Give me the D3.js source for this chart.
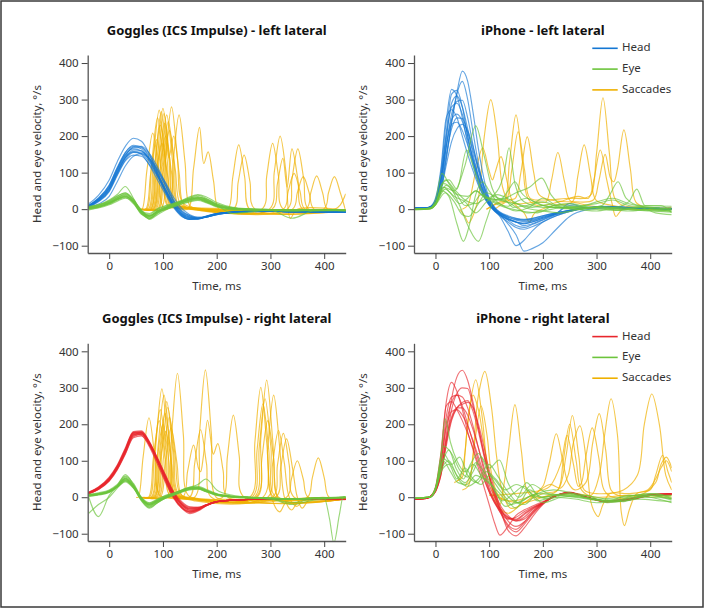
<!DOCTYPE html>
<html><head><meta charset="utf-8">
<script src="https://cdn.jsdelivr.net/npm/d3@7"></script>
<style>
body{margin:0;background:#fff;}
svg{display:block;}
text{font-family:"Noto Sans","Open Sans",sans-serif;}
</style>
</head><body>
<svg id="c" width="705" height="609"></svg>
<script>
// ---------- shared axes / labels ----------
const X_TICKS = [0, 100, 200, 300, 400];
const Y_TICKS = [-100, 0, 100, 200, 300, 400];
const X_DOMAIN = [-40, 440];
const Y_DOMAIN = [-120, 422];
const TITLES = ["Goggles (ICS Impulse) - left lateral", "iPhone - left lateral",
                "Goggles (ICS Impulse) - right lateral", "iPhone - right lateral"];
const LEGEND_LABELS = ["Head", "Eye", "Saccades"];
const X_LABEL = "Time, ms";
const Y_LABEL = "Head and eye velocity, °/s";

// sample times for the smooth head / eye traces
const TIME_GOGGLES = [-38,-20,0,15,30,45,60,75,90,105,120,135,150,165,180,200,230,260,300,340,380,440];
const TIME_IPHONE = [-38,-20,-10,0,10,20,30,40,50,60,70,80,90,100,110,120,135,150,165,180,200,225,250,280,320,360,400,440];

// ---------- Goggles - left lateral ----------
const gogglesLeftHead = [
 [10,28,62,110,155,175,170,140,98,55,12,-14,-25,-26,-20,-13,-8,-6,-6,-7,-7,-8],
 [6,22,50,95,135,155,152,128,92,52,14,-12,-22,-25,-20,-12,-8,-6,-6,-7,-7,-8],
 [15,38,80,130,172,194,186,150,100,48,8,-18,-28,-27,-21,-13,-9,-6,-6,-7,-8,-8],
 [8,24,55,102,142,162,160,135,96,54,16,-10,-22,-26,-22,-14,-8,-6,-6,-7,-7,-8],
 [4,14,35,75,118,145,152,138,108,72,32,2,-15,-22,-21,-14,-8,-6,-5,-6,-7,-7],
 [10,30,65,112,150,165,160,132,90,46,6,-18,-28,-27,-20,-12,-8,-6,-6,-7,-7,-8],
 [8,26,58,105,145,168,168,146,108,64,20,-8,-20,-25,-22,-15,-9,-6,-6,-7,-7,-8],
 [7,22,52,98,140,158,150,120,80,40,4,-20,-28,-26,-19,-12,-8,-6,-6,-7,-7,-8],
 [9,27,60,108,148,170,172,152,115,70,25,-4,-18,-24,-22,-15,-9,-7,-6,-7,-7,-8],
 [6,20,48,92,132,148,145,122,88,48,12,-14,-24,-26,-21,-13,-8,-6,-6,-7,-7,-8],
 [11,30,66,115,155,172,165,136,94,48,9,-16,-26,-27,-21,-13,-8,-6,-6,-7,-7,-8],
 [8,25,56,100,140,156,156,138,104,64,22,-6,-18,-24,-22,-15,-9,-7,-6,-7,-7,-8]
];
const gogglesLeftEye = [
 [3,8,18,30,38,20,-10,-20,-5,5,12,20,28,30,22,10,2,0,-2,-3,-2,-3],
 [5,10,22,35,45,28,-5,-18,-8,2,10,18,25,32,28,14,4,0,-1,-2,-1,-3],
 [0,5,15,25,32,15,-12,-25,-10,0,8,15,22,26,20,8,0,-2,-3,-4,-3,-4],
 [6,12,25,40,62,30,-8,-15,0,8,15,22,32,38,30,15,3,0,-1,-2,-2,-2],
 [2,6,16,28,35,22,-2,-28,-15,-2,8,18,26,28,20,8,0,-1,-3,-4,-3,-4],
 [8,12,20,32,40,25,-6,-12,2,10,16,24,34,40,34,18,5,1,-1,-2,-2,-3],
 [-2,3,12,22,30,18,-14,-22,-8,0,6,14,20,24,18,6,-2,-3,-4,-5,-4,-4],
 [4,9,19,31,42,26,-4,-18,-6,4,12,22,30,34,26,12,3,0,-2,-3,-2,-3],
 [3,7,17,28,36,20,-8,-24,-12,2,10,18,26,30,24,10,-12,-8,-3,-25,-5,-3],
 [1,6,14,26,34,20,-10,-18,-4,6,14,22,30,34,28,12,2,-1,-2,-3,-3,-3],
 [5,11,23,36,44,24,-8,-20,-6,4,12,20,28,32,24,10,1,-1,-2,-3,-2,-3],
 [2,7,16,27,34,18,-12,-26,-10,2,10,18,24,28,22,8,1,-2,-3,-4,-3,-4]
];
const gogglesLeftSaccades = [
 [[55,0],[61,0],[70,104],[81,208],[92,104],[101,5],[120,5],[146,0],[157,112],[168,224],[176,125],[184,157],[194,78],[204,0],[230,-2],[300,-3],[440,-4]],
 [[60,0],[73,0],[82,135],[93,271],[104,135],[113,10],[130,5],[200,2],[221,0],[230,88],[241,176],[252,88],[261,0],[300,-2],[440,-4]],
 [[62,0],[77,0],[86,133],[97,267],[108,133],[117,15],[140,5],[231,0],[240,74],[251,148],[262,74],[271,0],[440,-4]],
 [[64,0],[80,0],[89,138],[100,276],[111,138],[120,20],[140,5],[284,0],[293,90],[304,180],[315,90],[324,0],[440,-3]],
 [[66,0],[82,0],[91,131],[102,262],[113,131],[122,15],[150,3],[298,0],[307,100],[318,200],[329,100],[337,-25],[350,0],[440,-3]],
 [[68,0],[87,0],[96,129],[107,258],[118,129],[127,15],[150,3],[303,0],[313,70],[323,139],[331,60],[340,165],[351,82],[360,0],[440,-3]],
 [[72,0],[96,0],[105,140],[116,280],[127,140],[136,20],[160,3],[331,0],[340,82],[351,165],[362,82],[371,0],[440,-3]],
 [[78,0],[110,2],[119,129],[130,258],[141,129],[150,10],[170,0],[324,0],[333,49],[344,98],[355,49],[364,0],[440,-3]],
 [[58,0],[68,0],[77,95],[88,190],[99,95],[108,10],[130,3],[341,0],[350,45],[361,89],[372,45],[381,0],[440,-3]],
 [[60,0],[75,0],[84,115],[95,230],[106,115],[115,10],[140,3],[366,0],[375,45],[386,91],[397,45],[406,0],[440,-3]],
 [[66,0],[85,0],[94,100],[105,200],[116,100],[125,10],[150,3],[399,0],[408,45],[419,89],[430,45],[439,0]],
 [[68,0],[90,0],[99,120],[110,240],[121,120],[130,10],[160,3],[420,0],[430,12],[440,42]],
 [[62,0],[78,0],[87,90],[98,180],[109,90],[118,15],[140,3],[440,-3]],
 [[70,0],[92,0],[101,108],[112,215],[123,108],[132,15],[150,3],[440,-3]],
 [[58,0],[70,0],[79,125],[90,250],[101,125],[110,10],[130,3],[440,-3]],
 [[66,0],[83,0],[92,118],[103,235],[111,140],[120,200],[130,100],[139,10],[160,3],[440,-3]]
];

// ---------- iPhone - left lateral ----------
const iphoneLeftHead = [
 [3,3,5,18,55,140,240,320,378,350,265,165,85,30,5,-8,-18,-25,-28,-25,-18,-10,-3,5,8,5,3,2],
 [2,2,4,16,50,135,235,315,350,300,210,125,60,20,0,-12,-25,-35,-40,-35,-25,-12,10,4,6,4,2,1],
 [3,3,6,25,100,240,328,310,250,180,120,70,35,10,-5,-18,-35,-50,-55,-48,-35,-18,-6,3,6,4,2,2],
 [2,3,5,22,85,210,315,325,280,200,130,75,40,15,-2,-15,-30,-45,-50,-42,-30,-15,-5,3,5,3,2,1],
 [3,3,5,20,75,190,290,310,280,220,150,90,45,15,-3,-20,-60,-100,-85,-60,-35,-18,-6,2,5,4,2,1],
 [2,2,4,18,65,170,260,295,298,250,175,105,55,20,0,-15,-40,-70,-115,-108,-92,-55,-20,-2,4,3,2,1],
 [3,3,6,24,90,200,280,290,260,200,135,80,40,12,-4,-15,-28,-35,-38,-32,-22,-12,15,4,6,4,2,1],
 [2,3,7,30,110,250,272,250,200,150,105,65,35,12,-5,-16,-28,-36,-40,-35,-25,-13,-5,3,5,3,2,1],
 [3,3,5,18,60,150,220,250,248,210,160,110,65,28,5,-10,-22,-30,-34,-30,-22,-12,-4,4,6,4,2,1],
 [2,2,5,22,80,170,232,238,215,175,130,85,45,15,-2,-12,-22,-28,-30,-26,-18,-10,-3,4,5,3,2,1],
 [3,3,5,15,50,120,185,220,232,215,170,115,65,25,3,-10,-20,-26,-30,-28,-20,-10,-3,4,6,4,2,1],
 [2,3,6,22,75,175,245,260,240,190,140,90,50,18,0,-14,-26,-35,-45,-40,-28,-14,-5,3,5,3,2,1]
];
const iphoneLeftEye = [
 [[-38,0],[-10,0],[0,12],[12,50],[25,35],[40,-40],[52,-88],[62,-50],[75,40],[88,75],[100,50],[115,20],[135,8],[150,20],[170,30],[190,15],[220,5],[260,0],[300,5],[340,-3],[380,5],[420,-2],[440,-5]],
 [[-38,-2],[-10,1],[0,15],[15,70],[30,55],[45,10],[62,-50],[80,-88],[95,-30],[110,25],[125,30],[145,5],[170,10],[200,20],[230,5],[270,0],[310,8],[350,0],[400,-5],[440,-8]],
 [[-38,0],[-10,2],[0,15],[15,60],[35,50],[55,120],[75,228],[90,150],[105,60],[120,25],[150,15],[180,5],[210,12],[250,8],[300,15],[330,25],[360,10],[400,5],[440,0]],
 [[-38,-1],[-10,1],[0,14],[12,70],[25,80],[40,55],[58,162],[72,110],[88,45],[105,25],[125,10],[150,-5],[175,5],[200,30],[225,10],[260,0],[300,-5],[340,5],[380,0],[440,-5]],
 [[-38,0],[-10,3],[0,25],[12,98],[25,70],[40,40],[55,10],[70,15],[85,40],[100,30],[120,25],[135,50],[148,75],[160,45],[185,20],[220,5],[260,5],[300,20],[330,30],[360,15],[400,5],[440,2]],
 [[-38,-1],[-10,2],[0,12],[15,60],[30,40],[45,15],[60,30],[75,50],[95,30],[115,50],[128,100],[137,168],[148,70],[165,20],[200,5],[250,5],[300,5],[350,0],[440,-5]],
 [[-38,0],[-10,2],[0,14],[18,80],[35,55],[55,25],[75,15],[95,30],[120,25],[150,45],[175,60],[198,85],[215,40],[240,10],[280,5],[320,0],[360,-5],[400,0],[440,0]],
 [[-38,0],[-10,2],[0,13],[18,55],[35,35],[55,20],[75,-10],[95,20],[115,40],[140,25],[165,5],[200,-5],[230,-10],[270,0],[310,10],[325,40],[340,75],[355,30],[380,10],[440,8]],
 [[-38,-1],[-10,3],[0,16],[20,65],[40,40],[60,35],[75,50],[95,30],[120,10],[160,-5],[190,-10],[220,10],[250,15],[290,5],[330,5],[360,20],[375,55],[390,10],[420,10],[440,-10]],
 [[-38,0],[-10,2],[0,12],[18,45],[35,20],[50,-15],[62,-20],[80,15],[95,45],[110,35],[140,15],[170,-10],[200,-5],[240,5],[290,0],[330,-3],[380,5],[410,-10],[440,-15]]
];
const iphoneLeftSaccades = [
 [[45,0],[55,-20],[62,-38],[72,-10],[81,40],[91,200],[103,300],[115,200],[125,60],[135,25],[150,15],[190,20],[206,20],[216,78],[228,155],[240,78],[250,25],[270,15],[310,5],[360,0],[440,0]],
 [[50,0],[60,10],[66,40],[76,110],[88,168],[99,110],[106,80],[111,100],[122,144],[134,72],[144,20],[165,-10],[175,-35],[185,-10],[220,10],[255,20],[265,90],[277,176],[289,90],[299,25],[330,10],[380,0],[440,5]],
 [[95,0],[115,15],[128,20],[138,130],[150,258],[162,130],[172,30],[190,10],[230,20],[265,35],[285,30],[295,80],[307,162],[319,80],[329,15],[336,-20],[349,0],[440,0]],
 [[95,0],[120,20],[132,25],[142,106],[154,212],[166,106],[176,30],[200,25],[250,30],[278,30],[290,40],[300,152],[312,305],[324,152],[334,30],[349,10],[380,5],[440,0]],
 [[110,0],[138,25],[149,30],[159,100],[171,198],[183,100],[193,40],[215,25],[260,20],[294,25],[304,75],[316,150],[326,85],[332,75],[339,110],[351,217],[363,110],[373,20],[390,5],[440,0]]
];

// ---------- Goggles - right lateral ----------
const gogglesRightHead = [
 [12,25,50,82,128,175,178,148,100,48,3,-26,-38,-33,-22,-12,-8,-6,-5,-5,-5,-6],
 [10,22,46,78,122,168,172,145,100,52,8,-20,-32,-30,-21,-12,-8,-6,-5,-5,-5,-6],
 [14,28,55,88,135,180,182,150,102,50,2,-28,-42,-36,-24,-13,-8,-6,-5,-5,-6,-6],
 [11,24,48,80,125,170,174,146,102,55,10,-18,-30,-30,-22,-13,-8,-6,-5,-5,-5,-6],
 [13,27,52,85,130,176,176,142,95,44,0,-30,-45,-38,-24,-13,-8,-6,-5,-5,-6,-7],
 [9,21,44,75,118,163,168,142,100,55,12,-15,-28,-28,-21,-12,-8,-6,-5,-5,-5,-6],
 [12,26,51,84,130,177,180,152,106,56,8,-22,-36,-34,-23,-13,-8,-6,-5,-5,-5,-6],
 [10,23,47,79,124,171,176,150,105,58,12,-18,-32,-32,-22,-12,-8,-6,-5,-5,-5,-6],
 [13,27,53,86,132,178,178,146,98,46,0,-28,-40,-35,-23,-12,-8,-6,-5,-5,-6,-6],
 [11,24,49,81,126,172,175,147,101,51,6,-22,-35,-32,-22,-12,-8,-6,-5,-5,-5,-6],
 [12,25,50,83,128,174,170,138,90,40,-3,-30,-40,-34,-22,-12,-8,-6,-5,-5,-5,-6],
 [10,22,45,77,120,166,172,148,106,60,15,-12,-26,-28,-21,-12,-8,-6,-5,-5,-5,-6]
];
const gogglesRightEye = [
 [5,8,15,30,50,30,-5,-20,-10,0,8,18,25,25,18,8,2,0,-3,-5,-3,0],
 [8,12,20,35,58,38,0,-15,-5,5,12,20,28,30,22,10,3,0,-2,-4,-2,1],
 [-44,-20,0,25,45,28,-8,-28,-15,-2,6,15,22,24,16,6,0,-2,-4,-6,-4,-1],
 [0,-53,5,30,52,32,-3,-18,-8,2,10,20,27,35,50,20,5,0,-3,-5,-3,0],
 [6,10,18,32,62,35,-2,-22,-12,0,8,16,24,26,18,8,1,-1,-4,-15,-4,0],
 [3,7,14,28,45,26,-10,-30,-15,-3,5,14,20,22,15,5,0,-2,-5,-20,-8,-2],
 [7,10,17,32,55,34,-4,-16,-6,4,10,18,26,28,20,8,2,0,-2,-4,-2,0],
 [4,8,15,29,48,28,-6,-24,-12,0,8,17,24,25,17,7,1,-1,-3,-5,-3,0],
 [5,9,16,30,52,32,-2,-20,-8,2,10,19,26,27,19,8,2,0,-3,-5,-3,0],
 [2,6,13,27,42,25,-8,-26,-14,-2,6,15,22,23,16,6,0,-2,-4,-6,-4,-1],
 [6,9,17,31,50,30,-4,-19,-9,1,9,18,25,26,19,8,2,0,-3,-4,-3,0],
 [[-38,4],[-20,8],[0,15],[15,29],[30,47],[45,28],[60,-5],[75,-22],[90,-10],[105,0],[120,8],[135,17],[150,23],[165,24],[180,17],[200,7],[230,1],[260,0],[300,-3],[340,-5],[380,-3],[400,-2],[410,-60],[418,-125],[428,-50],[435,0],[440,2]]
];
const gogglesRightSaccades = [
 [[50,0],[54,0],[63,109],[74,218],[85,109],[94,5],[120,0],[159,0],[168,175],[179,349],[190,175],[199,0],[230,-5],[300,-5],[440,-5]],
 [[60,0],[78,0],[87,148],[98,297],[109,148],[118,10],[150,0],[262,0],[271,150],[282,301],[293,150],[302,0],[317,-40],[332,-10],[440,-5]],
 [[62,0],[82,0],[91,140],[102,280],[113,140],[122,10],[150,-5],[273,0],[282,160],[293,321],[304,160],[313,0],[324,-15],[440,-5]],
 [[64,0],[87,0],[96,131],[107,262],[118,131],[127,10],[160,-10],[286,0],[295,140],[306,280],[317,140],[326,0],[339,-35],[354,-10],[440,-5]],
 [[66,0],[89,0],[98,123],[109,246],[120,123],[129,10],[160,-5],[266,0],[275,128],[286,256],[297,128],[306,0],[440,-5]],
 [[58,0],[75,0],[84,120],[95,240],[106,120],[115,10],[150,-5],[295,0],[304,92],[315,183],[326,92],[335,0],[349,-25],[364,-5],[440,-5]],
 [[60,0],[80,0],[89,100],[100,200],[111,100],[120,10],[160,-5],[304,0],[313,88],[324,175],[335,88],[344,0],[440,-5]],
 [[64,0],[85,0],[94,90],[105,180],[116,90],[125,10],[160,-5],[310,0],[319,80],[330,160],[341,80],[350,0],[359,-30],[374,-5],[440,-5]],
 [[68,0],[92,0],[101,110],[112,220],[123,110],[132,10],[160,-5],[330,0],[339,50],[350,100],[361,50],[370,0],[440,-5]],
 [[78,0],[107,0],[116,170],[127,340],[138,170],[147,5],[180,-5],[211,0],[220,112],[231,225],[242,112],[251,0],[440,-5]],
 [[100,0],[137,0],[146,72],[157,143],[166,80],[170,70],[175,110],[183,211],[192,125],[194,118],[202,147],[212,73],[221,0],[440,-5]],
 [[110,0],[150,0],[159,92],[170,185],[181,92],[190,0],[275,0],[284,105],[295,210],[306,105],[315,0],[369,0],[378,54],[389,108],[400,54],[409,0],[440,-5]],
 [[70,0],[95,0],[104,95],[115,190],[126,95],[135,5],[160,-5],[440,-5]],
 [[58,0],[73,0],[82,105],[93,210],[104,105],[113,5],[150,-5],[440,-5]],
 [[64,0],[84,0],[93,115],[104,230],[115,115],[124,5],[160,-5],[270,0],[279,135],[290,270],[301,135],[310,0],[440,-5]]
];

// ---------- iPhone - right lateral ----------
const iphoneRightHead = [
 [-5,-4,0,18,70,170,270,330,348,320,260,190,120,60,15,-20,-50,-65,-60,-40,-15,5,12,0,-12,-5,8,10],
 [-4,-3,2,25,110,260,315,290,240,180,130,80,30,-20,-70,-104,-80,-50,-35,-25,-12,5,14,2,-10,-5,5,8],
 [-5,-4,0,15,60,150,240,285,300,298,250,190,125,60,10,-30,-90,-106,-85,-55,-20,5,12,0,-12,-8,5,10],
 [-4,-3,1,22,95,220,275,280,250,200,150,100,55,15,-15,-40,-60,-55,-40,-28,-15,5,12,0,-10,-5,6,8],
 [-5,-3,2,28,120,250,262,240,210,175,135,90,50,15,-15,-35,-55,-60,-45,-30,-15,5,13,0,-10,-6,5,8],
 [-4,-3,1,18,70,160,220,245,245,225,185,135,85,35,0,-30,-55,-65,-55,-35,-15,4,12,0,-12,-6,6,10],
 [-5,-4,0,16,60,140,210,245,260,265,235,180,115,55,5,-35,-75,-88,-70,-45,-18,5,13,0,-13,-8,5,10],
 [-4,-3,2,22,90,190,235,240,225,195,155,110,65,20,-10,-35,-58,-62,-48,-32,-16,5,12,0,-10,-5,6,8],
 [-5,-4,0,20,85,200,260,280,275,245,195,135,75,25,-10,-40,-80,-95,-75,-48,-18,5,13,0,-12,-6,5,10],
 [-4,-3,1,16,65,150,215,245,255,260,245,200,140,75,20,-25,-65,-80,-68,-42,-16,4,12,0,-12,-7,6,9]
];
const iphoneRightEye = [
 [[-38,-3],[-10,0],[0,25],[10,110],[18,215],[28,150],[40,100],[55,70],[70,90],[85,60],[100,40],[120,10],[140,-20],[160,-10],[190,10],[230,5],[270,-2],[310,-10],[350,-5],[400,5],[440,-5]],
 [[-38,-2],[-10,1],[0,22],[12,90],[25,130],[38,80],[52,50],[65,90],[80,120],[95,80],[110,40],[130,0],[150,-30],[175,20],[200,0],[240,10],[280,0],[320,-10],[360,5],[400,0],[440,-15]],
 [[-38,-3],[-10,0],[0,20],[12,80],[25,100],[40,60],[55,40],[70,70],[85,110],[100,80],[119,102],[135,40],[155,0],[180,35],[210,10],[250,5],[300,-5],[350,0],[400,10],[440,0]],
 [[-38,-2],[-10,1],[0,24],[14,100],[28,70],[42,40],[58,35],[75,60],[90,50],[105,30],[125,-10],[145,10],[165,30],[190,-10],[220,0],[260,-5],[300,-15],[340,-10],[380,0],[440,-3]],
 [[-38,-3],[-10,0],[0,22],[15,120],[30,90],[45,110],[60,60],[78,40],[95,70],[112,50],[130,20],[150,35],[175,15],[200,-15],[235,0],[280,5],[320,-15],[360,-8],[400,5],[440,-8]],
 [[-38,-2],[-10,1],[0,26],[15,140],[30,120],[45,75],[60,55],[75,95],[90,70],[110,20],[130,-25],[150,-10],[170,40],[195,0],[230,5],[270,0],[310,-8],[350,-12],[390,5],[440,5]],
 [[-38,-3],[-10,0],[0,20],[12,75],[25,90],[40,50],[55,80],[70,50],[85,35],[100,60],[120,30],[140,-5],[165,-20],[190,10],[220,20],[260,10],[300,0],[340,-10],[380,-5],[420,-10],[440,-12]],
 [[-38,-2],[-10,1],[0,24],[15,105],[30,85],[45,45],[60,30],[80,50],[100,90],[115,60],[135,15],[155,-15],[180,5],[210,-5],[250,10],[290,-5],[330,-12],[370,5],[410,10],[440,-5]]
];
const iphoneRightSaccades = [
 [[40,45],[50,55],[55,120],[63,240],[75,322],[87,220],[97,80],[109,10],[120,-20],[126,20],[136,127],[148,254],[160,127],[170,20],[182,0],[220,5],[260,10],[300,0],[360,5],[440,5]],
 [[50,20],[61,30],[70,120],[80,280],[92,345],[104,250],[114,110],[124,20],[140,-30],[170,-10],[200,30],[203,40],[213,100],[225,174],[237,100],[247,40],[260,20],[280,40],[293,150],[305,229],[317,130],[327,20],[340,5],[380,5],[440,0]],
 [[35,40],[45,50],[53,100],[60,200],[70,280],[80,240],[88,170],[100,60],[115,-20],[135,-44],[160,-20],[200,10],[228,20],[243,112],[255,224],[267,112],[277,20],[300,10],[350,20],[376,60],[389,200],[403,283],[417,200],[429,60],[440,20]],
 [[55,30],[65,60],[74,160],[85,250],[96,170],[105,60],[120,0],[160,-15],[200,0],[228,20],[238,100],[250,200],[262,100],[272,20],[290,5],[305,60],[315,170],[327,270],[339,170],[346,-40],[352,-78],[362,-30],[375,10],[400,20],[410,60],[423,115],[433,70],[440,40]],
 [[100,10],[140,-10],[180,5],[213,35],[233,25],[247,60],[257,150],[269,196],[281,100],[289,-10],[296,-40],[303,-53],[312,-20],[325,10],[360,10],[395,20],[410,50],[420,80],[430,100],[440,70]],
 [[100,5],[150,10],[200,20],[213,30],[233,90],[245,170],[257,90],[266,30],[272,40],[280,110],[292,190],[304,110],[314,20],[330,0],[380,5],[410,40],[420,90],[430,110],[440,80]]
];

// ---------- colours ----------
const BLUE = "#1477d3", RED = "#e8262c", GREEN = "#6cc43c", ORANGE = "#efb000";

const panels = [
  {title: TITLES[0], head: gogglesLeftHead, eye: gogglesLeftEye, sac: gogglesLeftSaccades, grid: TIME_GOGGLES, hc: BLUE, legend: false, x: [87.7, 345.7], y: [253, 55]},
  {title: TITLES[1], head: iphoneLeftHead, eye: iphoneLeftEye, sac: iphoneLeftSaccades, grid: TIME_IPHONE, hc: BLUE, legend: true, x: [414, 671.7], y: [253, 55]},
  {title: TITLES[2], head: gogglesRightHead, eye: gogglesRightEye, sac: gogglesRightSaccades, grid: TIME_GOGGLES, hc: RED, legend: false, x: [87.7, 345.7], y: [541, 343.3]},
  {title: TITLES[3], head: iphoneRightHead, eye: iphoneRightEye, sac: iphoneRightSaccades, grid: TIME_IPHONE, hc: RED, legend: true, x: [414, 671.7], y: [541, 343.3]}
];

const svg = d3.select("#c");
svg.append("rect").attr("x", 1).attr("y", 1).attr("width", 702).attr("height", 606)
  .attr("fill", "#fff").attr("stroke", "#3a3a3a").attr("stroke-width", 1.5);

function toPairs(tr, grid) {
  return Array.isArray(tr[0]) ? tr : tr.map((v, i) => [grid[i], v]);
}

panels.forEach((p, pi) => {
  const x = d3.scaleLinear().domain(X_DOMAIN).range(p.x);
  const y = d3.scaleLinear().domain(Y_DOMAIN).range(p.y);
  const g = svg.append("g");
  const clipId = "clip" + pi;
  svg.append("clipPath").attr("id", clipId).append("rect")
    .attr("x", p.x[0]).attr("y", p.y[1]).attr("width", p.x[1] - p.x[0]).attr("height", p.y[0] - p.y[1]);

  const line = d3.line().x(d => x(d[0])).y(d => y(d[1])).curve(d3.curveMonotoneX);
  const sacLine = d3.line().x(d => x(d[0])).y(d => y(d[1])).curve(d3.curveCatmullRom.alpha(0.5));
  const plot = g.append("g").attr("clip-path", `url(#${clipId})`)
    .attr("fill", "none").attr("stroke-width", 1.15).attr("stroke-linejoin", "round");

  plot.selectAll("path.sac").data(p.sac).join("path").attr("class", "sac")
    .attr("d", d => sacLine(d)).attr("stroke", ORANGE).attr("stroke-opacity", 0.7);
  plot.selectAll("path.head").data(p.head).join("path").attr("class", "head")
    .attr("d", d => line(toPairs(d, p.grid))).attr("stroke", p.hc).attr("stroke-opacity", 0.65);
  plot.selectAll("path.eye").data(p.eye).join("path").attr("class", "eye")
    .attr("d", d => line(toPairs(d, p.grid))).attr("stroke", GREEN).attr("stroke-opacity", 0.68);

  // axes
  const ax = g.append("g").attr("transform", `translate(0,${p.y[0]})`)
    .call(d3.axisBottom(x).tickValues(X_TICKS).tickSize(6).tickSizeOuter(0).tickPadding(3));
  const ay = g.append("g").attr("transform", `translate(${p.x[0]},0)`)
    .call(d3.axisLeft(y).tickValues(Y_TICKS).tickSize(6).tickSizeOuter(0).tickPadding(3));
  [ax, ay].forEach(a => {
    a.select(".domain").attr("stroke", "#555").attr("stroke-width", 1.3);
    a.selectAll(".tick line").attr("stroke", "#444");
    a.selectAll(".tick text").attr("fill", "#333").style("font-size", "11.5px")
      .style("font-family", '"Noto Sans","Open Sans",sans-serif');
  });

  // titles & labels
  const cx = (p.x[0] + p.x[1]) / 2;
  g.append("text").attr("x", cx).attr("y", p.y[1] - 24).attr("text-anchor", "middle")
    .attr("dominant-baseline", "middle").style("font-weight", "bold").style("font-size", "13px")
    .attr("fill", "#111").text(p.title);
  g.append("text").attr("x", cx).attr("y", p.y[0] + 34).attr("text-anchor", "middle")
    .attr("dominant-baseline", "middle").style("font-size", "11.5px").attr("fill", "#333").text(X_LABEL);
  const cy = (p.y[0] + p.y[1]) / 2;
  g.append("text").attr("transform", `translate(${p.x[0] - 50},${cy}) rotate(-90)`)
    .attr("text-anchor", "middle").attr("dominant-baseline", "middle")
    .style("font-size", "11.5px").attr("fill", "#333").text(Y_LABEL);

  if (p.legend) {
    const cols = [p.hc, GREEN, ORANGE];
    const lg = g.append("g");
    LEGEND_LABELS.forEach((lab, i) => {
      const ly = p.y[1] - 6.7 + i * 20.8;
      lg.append("line").attr("x1", 592.3).attr("x2", 617.7).attr("y1", ly).attr("y2", ly)
        .attr("stroke", cols[i]).attr("stroke-width", 1.6);
      lg.append("text").attr("x", 622).attr("y", ly).attr("dominant-baseline", "middle")
        .style("font-size", "11.5px").attr("fill", "#333").text(lab);
    });
  }
});
</script>
</body></html>
